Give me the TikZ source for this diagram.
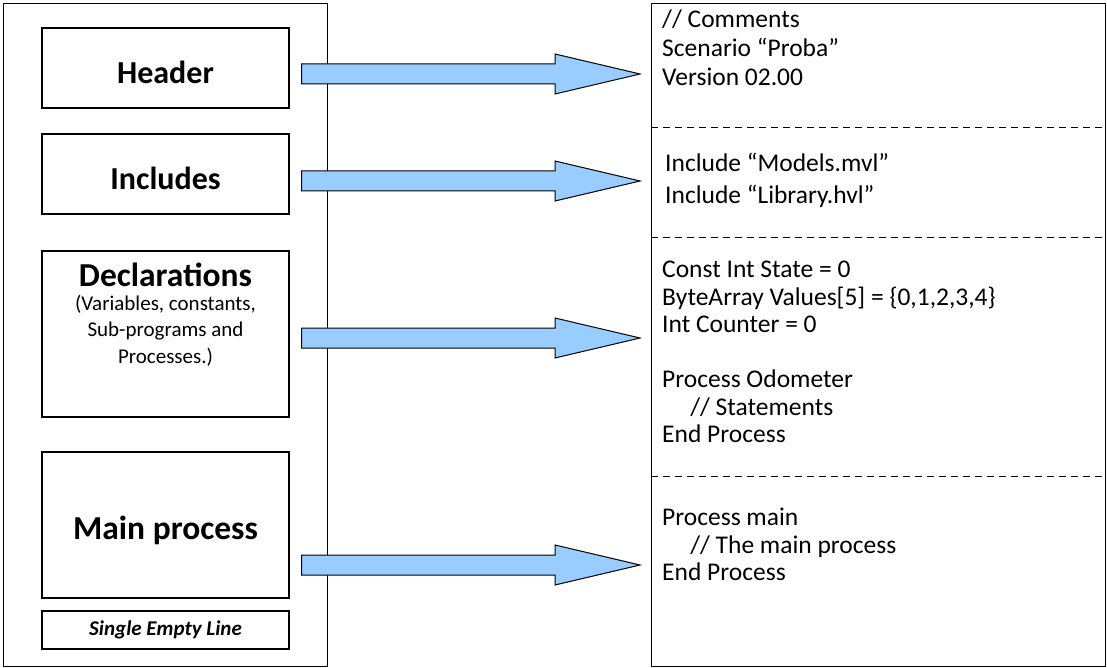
\documentclass[tikz,border=0pt]{standalone}
\usepackage{fontspec}
\setmainfont{Carlito}
\usepackage{xcolor}
\usetikzlibrary{calc,positioning}
\definecolor{arrowblue}{RGB}{153,204,255}
% block arrow from the east side of a box to the west side of the code frame, at height #3
\newcommand{\blockarrow}[3]{%
  \draw[blockarr] let \p1=(#1.east), \p2=(#2.west), \p3=(0,#3) in
    (\x1+12pt,\y3+10pt) -- (\x2-96pt,\y3+10pt) -- (\x2-96pt,\y3+20pt)
    -- (\x2-11pt,\y3) -- (\x2-96pt,\y3-20pt) -- (\x2-96pt,\y3-10pt)
    -- (\x1+12pt,\y3-10pt) -- cycle;}

\begin{document}
\begin{tikzpicture}[
  x=1pt, y=-1pt,
  frame/.style={draw, line width=1.2pt, anchor=north west, inner sep=0pt},
  modbox/.style={draw, line width=1.2pt, minimum width=247pt, inner sep=0pt},
  modtitle/.style={font=\fontsize{32}{38}\selectfont\bfseries},
  subtext/.style={font=\fontsize{21}{26.5}\selectfont, align=center},
  codetext/.style={font=\fontsize{25.5}{27.5}\selectfont, align=left, anchor=north west, inner sep=0pt},
  sepline/.style={dashed, dash pattern=on 7pt off 5pt, line width=1pt},
  blockarr/.style={draw=black, fill=arrowblue, line width=1pt, line join=miter}
]
  \useasboundingbox (0,0) rectangle (1107,668);

  % left column: program structure
  \node[frame, minimum width=324pt, minimum height=663pt] (prog) at (3,3) {};
  \node[modbox, minimum height=80pt] (hdr) at (165.5,68) {};
  \node[modtitle] (hdrtitle) at ($(hdr)+(0,4)$) {Header};
  \node[modbox, minimum height=80pt] (inc) at (165.5,174) {};
  \node[modtitle] (inctitle) at ($(inc)+(0,4)$) {Includes};
  \node[modbox, minimum height=166pt] (decl) at (165.5,334) {};
  \node[modtitle, font=\fontsize{33.5}{38}\selectfont\bfseries] (decltitle) at (165.5,275) {Declarations};
  \node[subtext, below=1pt of decltitle] (declsub) {(Variables, constants,\\Sub-programs and\\Processes.)};
  \node[modbox, minimum height=146pt] (main) at (165.5,525) {};
  \node[modtitle, font=\fontsize{33.5}{38}\selectfont\bfseries] (maintitle) at ($(main)+(0,5)$) {Main process};
  \node[modbox, minimum height=38pt, font=\fontsize{21}{24}\selectfont\bfseries\itshape] (empty) at (165.5,630) {Single Empty Line};

  % right column: example source
  \node[frame, minimum width=454pt, minimum height=663pt] (code) at (651,3) {};
  \draw[sepline] (code.west |- 0,128) -- (code.east |- 0,128);
  \draw[sepline] (code.west |- 0,238) -- (code.east |- 0,238);
  \draw[sepline] (code.west |- 0,476) -- (code.east |- 0,476);

  \node[codetext, font=\fontsize{25.5}{29}\selectfont] (hdrcode) at (662,10) {// Comments\\Scenario “Proba”\\Version 02.00};
  \node[codetext, font=\fontsize{25.5}{32}\selectfont] (inccode) at (665,153) {Include “Models.mvl”\\Include “Library.hvl”};
  \node[codetext] (declcode) at (662,261) {Const Int State = 0\\ByteArray Values[5] = \{0,1,2,3,4\}\\Int Counter = 0\\[27.5pt]Process Odometer\\\hspace*{1.1em}// Statements\\End Process};
  \node[codetext] (maincode) at (662,508) {Process main\\\hspace*{1.1em}// The main process\\End Process};

  % arrows
  \blockarrow{hdr}{code}{74}
  \blockarrow{inc}{code}{181}
  \blockarrow{decl}{code}{338}
  \blockarrow{main}{code}{565}
\end{tikzpicture}
\end{document}
